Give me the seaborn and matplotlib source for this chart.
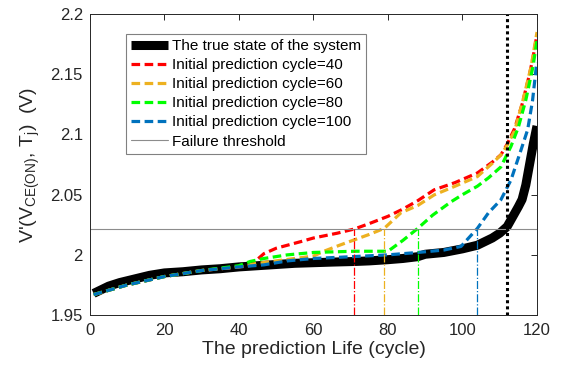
import numpy as np
import pandas as pd
import matplotlib
matplotlib.use("Agg")
import matplotlib.pyplot as plt
import seaborn as sns

# ---- data -------------------------------------------------------------
true_cycle = [1, 3, 5, 8, 12, 16, 20, 25, 30, 35, 40, 45, 50, 55, 60, 65, 71, 75,
              80, 84, 88, 90, 95, 100, 104, 106, 108, 110, 112, 113,
              114, 115, 116, 117, 118, 119, 120]
true_value = [1.968, 1.971, 1.974, 1.977, 1.980, 1.983, 1.985, 1.986, 1.9875, 1.9885,
              1.990, 1.991, 1.992, 1.993, 1.9935, 1.994, 1.9945, 1.995, 1.996,
              1.997, 1.9985, 2.0005, 2.002, 2.005, 2.008, 2.011, 2.014, 2.018,
              2.0235, 2.029, 2.0345, 2.040, 2.046, 2.058, 2.075, 2.092, 2.107]

pred40_cycle = [1, 10, 20, 30, 40, 43, 46.7, 50, 56.6, 60, 66.4, 71, 75, 80, 84, 88,
                92.4, 98, 104, 108, 110.3, 112, 114, 116, 118, 119, 120]
pred40_value = [1.967, 1.975, 1.982, 1.987, 1.990, 1.991, 2.001, 2.0055, 2.011,
                2.014, 2.018, 2.0215, 2.026, 2.032, 2.038, 2.045, 2.054, 2.060,
                2.068, 2.077, 2.083, 2.092, 2.105, 2.125, 2.150, 2.165, 2.183]

pred60_cycle = [1, 10, 20, 30, 40, 45, 50, 55, 60, 62.8, 67, 71, 75, 79, 83.5, 88,
                92.4, 98, 104, 108, 110.3, 112, 114, 116.2, 118.4, 120]
pred60_value = [1.967, 1.975, 1.982, 1.987, 1.990, 1.993, 1.995, 1.997, 1.999,
                2.003, 2.008, 2.0125, 2.017, 2.022, 2.035, 2.041, 2.0498, 2.057,
                2.065, 2.076, 2.083, 2.091, 2.103, 2.128, 2.156, 2.185]

pred80_cycle = [1, 10, 20, 30, 40, 43, 46.7, 53, 60, 71, 80, 84, 88, 92, 96.9, 100,
                104, 107, 110.3, 113, 115, 117, 118.9, 120]
pred80_value = [1.967, 1.975, 1.982, 1.987, 1.991, 1.9945, 1.997, 2.000, 2.002,
                2.003, 2.003, 2.012, 2.022, 2.033, 2.044, 2.050, 2.057, 2.064,
                2.073, 2.090, 2.106, 2.1286, 2.156, 2.178]

pred100_cycle = [1, 10, 20, 30, 40, 46.7, 53, 60, 71, 80, 88, 95, 99.6, 104, 107,
                 110.3, 113, 115.7, 117.5, 118.8, 119.8, 120]
pred100_value = [1.967, 1.975, 1.982, 1.987, 1.990, 1.9917, 1.995, 1.997, 1.9986,
                 2.000, 2.002, 2.004, 2.007, 2.022, 2.035, 2.0457, 2.062, 2.087,
                 2.104, 2.128, 2.156, 2.160]

failure_threshold = 2.0215
# cycles where each prediction reaches the threshold
predicted_failure = [71, 79, 88, 104]
true_failure = 112

series_labels = ["The true state of the system",
                 "Initial prediction cycle=40",
                 "Initial prediction cycle=60",
                 "Initial prediction cycle=80",
                 "Initial prediction cycle=100",
                 "Failure threshold"]

x_ticks = [0, 20, 40, 60, 80, 100, 120]
y_ticks = [1.95, 2.0, 2.05, 2.1, 2.15, 2.2]
y_tick_labels = ["1.95", "2", "2.05", "2.1", "2.15", "2.2"]

# ---- style ------------------------------------------------------------
sns.set_style("white")
plt.rcParams["font.family"] = ["Liberation Sans", "DejaVu Sans"]
plt.rcParams["mathtext.fontset"] = "custom"
plt.rcParams["mathtext.rm"] = "Liberation Sans"

red = (1.0, 0.0, 0.0)
orange = (0.929, 0.694, 0.125)
green = (0.0, 1.0, 0.0)
blue = (0.0, 0.447, 0.741)
axis_gray = (0.15, 0.15, 0.15)

fig = plt.figure(figsize=(5.62, 3.72), dpi=100)
ax = fig.add_axes([0.160, 0.153, 0.7955, 0.8094])

dash = (0, (2.7, 1.4))

sns.lineplot(x=true_cycle, y=true_value, ax=ax, color="black", linewidth=6.5,
             sort=False, estimator=None, label=series_labels[0],
             solid_capstyle="butt")
for cyc, val, col, lab in [(pred40_cycle, pred40_value, red, series_labels[1]),
                           (pred60_cycle, pred60_value, orange, series_labels[2]),
                           (pred80_cycle, pred80_value, green, series_labels[3]),
                           (pred100_cycle, pred100_value, blue, series_labels[4])]:
    sns.lineplot(x=cyc, y=val, ax=ax, color=col, linewidth=2.3, linestyle=dash,
                 sort=False, estimator=None, label=lab)

ax.axhline(failure_threshold, color=(0.55, 0.55, 0.55), linewidth=0.8,
           label=series_labels[5])

for c, col in zip(predicted_failure, [red, orange, green, blue]):
    ax.vlines(c, 1.95, failure_threshold, colors=[col], linewidth=0.9,
              linestyles="-.")
ax.vlines(true_failure, 1.95, 2.2, colors="black", linewidth=2.2,
          linestyles=[(0, (1, 1))])

ax.set_xlim(0, 120)
ax.set_ylim(1.95, 2.2)
ax.set_xticks(x_ticks)
ax.set_yticks(y_ticks)
ax.set_yticklabels(y_tick_labels)

ax.tick_params(direction="in", length=4, width=0.7, colors=axis_gray,
               labelsize=12, top=True, right=True, pad=5)
ax.tick_params(axis="x", pad=6)
for s in ax.spines.values():
    s.set_color(axis_gray)
    s.set_linewidth(0.7)

ax.set_xlabel("The prediction Life (cycle)", fontsize=14, color=axis_gray,
              labelpad=2)
ax.set_ylabel(r"V'(V$_{\mathregular{CE(ON)}}$, T$_{\mathregular{j}}$)  (V)",
              fontsize=14, color=axis_gray, labelpad=6)

leg = ax.legend(loc="upper left", bbox_to_anchor=(0.0805, 0.9336),
                borderaxespad=0, fontsize=11, handlelength=2.4,
                handletextpad=0.25, labelspacing=0.33, borderpad=0.35,
                frameon=True, fancybox=False, framealpha=1, edgecolor=(0.5, 0.5, 0.5))
leg.get_frame().set_linewidth(0.8)
for t in leg.get_texts():
    t.set_color("black")

fig.savefig("out.png", dpi=100)
